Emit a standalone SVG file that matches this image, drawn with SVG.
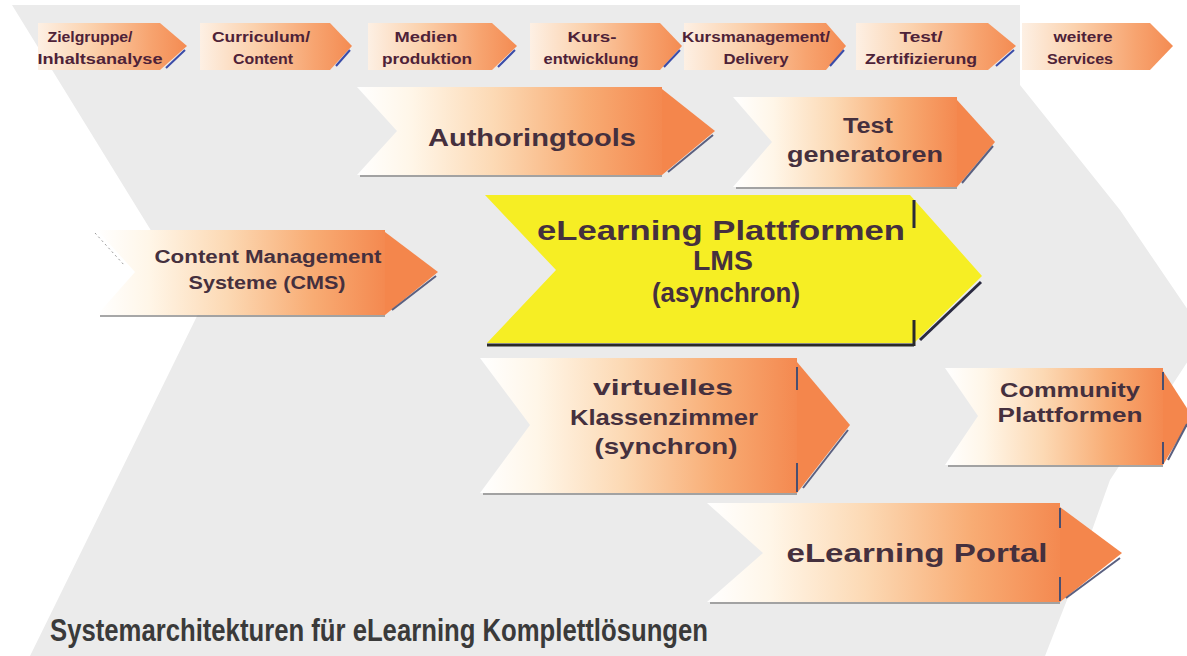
<svg xmlns="http://www.w3.org/2000/svg" width="1187" height="656" viewBox="0 0 1187 656">
<defs>
<linearGradient id="og" x1="0" y1="0" x2="1" y2="0">
<stop offset="0" stop-color="#ffffff"/>
<stop offset="0.18" stop-color="#fff6e8"/>
<stop offset="0.45" stop-color="#fcd9b4"/>
<stop offset="0.75" stop-color="#f8ac74"/>
<stop offset="1" stop-color="#f48950"/>
</linearGradient>
<linearGradient id="tg" x1="0" y1="0" x2="1" y2="0">
<stop offset="0" stop-color="#fdf0e4"/>
<stop offset="0.35" stop-color="#fbd2ae"/>
<stop offset="0.75" stop-color="#f7a470"/>
<stop offset="1" stop-color="#f48b52"/>
</linearGradient>
</defs>
<style>
.bg{fill:#ebebeb}
.body{fill:url(#og)}
.tbody{fill:url(#tg)}
.head{fill:#f4864c}
.shadow{fill:none;stroke:#5b6080;stroke-width:2}
.base{fill:none;stroke:#8a8a8a;stroke-width:1.5}
.tick{fill:none;stroke:#4a4f70;stroke-width:2}
.tshadow{fill:none;stroke:#3a4ca8;stroke-width:2}
.t{font-family:"Liberation Sans",Arial,sans-serif;font-weight:bold;fill:#4e2238;text-anchor:middle;font-size:14px}
.l{font-family:"Liberation Sans",Arial,sans-serif;font-weight:bold;fill:#45303e;text-anchor:middle}
.title{font-family:"Liberation Sans",Arial,sans-serif;font-weight:bold;fill:#3a3a3a;font-size:32px}
</style>

<g id="background">
<polygon class="bg" points="12,5 1020,5 1020,85 1120,210 1205,335 1110,480 1067,600 1045,656 30,656 200,310"/>
</g>

<g id="top-row">
<g id="t1">
<polygon class="tbody" points="38,23 160,23 187,46 160,70 38,70"/>
<polyline class="tshadow" points="185,50 166,68"/>
<text class="t" x="90" y="42" textLength="85" lengthAdjust="spacingAndGlyphs">Zielgruppe/</text>
<text class="t" x="100" y="64" textLength="125" lengthAdjust="spacingAndGlyphs">Inhaltsanalyse</text>
</g>
<g id="t2">
<polygon class="tbody" points="200,23 330,23 352,46 330,70 200,70"/>
<polyline class="tshadow" points="350,50 336,66"/>
<text class="t" x="261" y="42" textLength="98" lengthAdjust="spacingAndGlyphs">Curriculum/</text>
<text class="t" x="263" y="64" textLength="60" lengthAdjust="spacingAndGlyphs">Content</text>
</g>
<g id="t3">
<polygon class="tbody" points="368,23 492,23 517,46 492,70 368,70"/>
<polyline class="tshadow" points="515,50 498,67"/>
<text class="t" x="426" y="42" textLength="63" lengthAdjust="spacingAndGlyphs">Medien</text>
<text class="t" x="427" y="64" textLength="90" lengthAdjust="spacingAndGlyphs">produktion</text>
</g>
<g id="t4">
<polygon class="tbody" points="530,23 660,23 682,46 660,70 530,70"/>
<polyline class="tshadow" points="680,50 664,67"/>
<text class="t" x="592" y="42" textLength="49" lengthAdjust="spacingAndGlyphs">Kurs-</text>
<text class="t" x="591" y="64" textLength="95" lengthAdjust="spacingAndGlyphs">entwicklung</text>
</g>
<g id="t5">
<polygon class="tbody" points="684,23 826,23 846,46 826,70 684,70"/>
<polyline class="tshadow" points="844,50 830,66"/>
<text class="t" x="756" y="42" textLength="148" lengthAdjust="spacingAndGlyphs">Kursmanagement/</text>
<text class="t" x="756" y="64" textLength="65" lengthAdjust="spacingAndGlyphs">Delivery</text>
</g>
<g id="t6">
<polygon class="tbody" points="856,23 988,23 1016,46 988,70 856,70"/>
<polyline class="tshadow" points="1014,50 996,66"/>
<text class="t" x="921" y="42" textLength="43" lengthAdjust="spacingAndGlyphs">Test/</text>
<text class="t" x="921" y="64" textLength="112" lengthAdjust="spacingAndGlyphs">Zertifizierung</text>
</g>
<g id="t7">
<polygon class="tbody" points="1022,23 1150,23 1173,46 1150,70 1022,70"/>
<text class="t" x="1083" y="42" textLength="59" lengthAdjust="spacingAndGlyphs">weitere</text>
<text class="t" x="1080" y="64" textLength="66" lengthAdjust="spacingAndGlyphs">Services</text>
</g>
</g>

<g id="authoringtools">
<polygon class="body" points="357,87 662,87 662,175 357,175 397,131"/>
<polygon class="head" points="662,89 715,131 662,175"/>
<polyline class="shadow" points="713,135 668,172"/>
<line class="base" x1="360" y1="176" x2="662" y2="176"/>
<text class="l" x="532" y="146" font-size="24" textLength="208" lengthAdjust="spacingAndGlyphs">Authoringtools</text>
</g>

<g id="testgeneratoren">
<polygon class="body" points="733,97 957,97 957,187 733,187 772,142"/>
<polygon class="head" points="957,100 995,142 957,187"/>
<polyline class="shadow" points="993,146 962,183"/>
<line class="base" x1="736" y1="188" x2="957" y2="188"/>
<text class="l" x="868" y="133" font-size="22" textLength="50" lengthAdjust="spacingAndGlyphs">Test</text>
<text class="l" x="865" y="162" font-size="22" textLength="156" lengthAdjust="spacingAndGlyphs">generatoren</text>
</g>

<g id="cms">
<polygon class="body" points="97,230 385,230 385,315 97,315 135,272"/>
<polygon class="head" points="385,232 438,272 385,315"/>
<polyline class="shadow" points="436,276 392,310"/>
<line class="base" x1="100" y1="316" x2="385" y2="316"/>
<line x1="95" y1="233" x2="125" y2="266" stroke="#9a9a9a" stroke-width="1" stroke-dasharray="2 3"/>
<text class="l" x="268" y="263" font-size="18" textLength="227" lengthAdjust="spacingAndGlyphs">Content Management</text>
<text class="l" x="267" y="289" font-size="18" textLength="157" lengthAdjust="spacingAndGlyphs">Systeme (CMS)</text>
</g>

<g id="lms">
<polygon fill="#f6ee24" points="485,195 910,195 982,276 914,343 487,343 556,270"/>
<line x1="487" y1="345" x2="914" y2="345" stroke="#2a2a2a" stroke-width="3"/>
<line x1="914" y1="320" x2="914" y2="346" stroke="#2a2a2a" stroke-width="3"/>
<line x1="914" y1="200" x2="914" y2="228" stroke="#2a2a3a" stroke-width="3"/>
<line x1="920" y1="340" x2="981" y2="282" stroke="#2a2a40" stroke-width="3"/>
<text class="l" x="721" y="240" font-size="28" fill="#3a3040" textLength="368" lengthAdjust="spacingAndGlyphs">eLearning Plattformen</text>
<text class="l" x="723" y="270" font-size="27" fill="#3a3040" textLength="60" lengthAdjust="spacingAndGlyphs">LMS</text>
<text class="l" x="726" y="302" font-size="27" fill="#3a3040" textLength="148" lengthAdjust="spacingAndGlyphs">(asynchron)</text>
</g>

<g id="virtuelles">
<polygon class="body" points="480,358 797,358 797,493 480,493 530,425"/>
<polygon class="head" points="797,362 850,425 797,493"/>
<polyline class="shadow" points="848,430 803,488"/>
<line class="tick" x1="797" y1="367" x2="797" y2="390"/>
<line class="tick" x1="797" y1="463" x2="797" y2="492"/>
<line class="base" x1="483" y1="494" x2="797" y2="494"/>
<text class="l" x="663" y="395" font-size="22" textLength="140" lengthAdjust="spacingAndGlyphs">virtuelles</text>
<text class="l" x="664" y="425" font-size="22" textLength="188" lengthAdjust="spacingAndGlyphs">Klassenzimmer</text>
<text class="l" x="666" y="454" font-size="22" textLength="143" lengthAdjust="spacingAndGlyphs">(synchron)</text>
</g>

<g id="community">
<polygon class="body" points="945,368 1163,368 1163,465 945,465 978,416"/>
<polygon class="head" points="1163,371 1192,416 1163,465"/>
<polyline class="shadow" points="1187,424 1168,460"/>
<line class="tick" x1="1163" y1="372" x2="1163" y2="390"/>
<line class="tick" x1="1163" y1="442" x2="1163" y2="464"/>
<line class="base" x1="948" y1="466" x2="1163" y2="466"/>
<text class="l" x="1070" y="397" font-size="20" textLength="140" lengthAdjust="spacingAndGlyphs">Community</text>
<text class="l" x="1070" y="422" font-size="20" textLength="145" lengthAdjust="spacingAndGlyphs">Plattformen</text>
</g>

<g id="portal">
<polygon class="body" points="707,503 1060,503 1060,602 707,602 763,553"/>
<polygon class="head" points="1060,507 1122,553 1060,602"/>
<polyline class="shadow" points="1120,558 1066,598"/>
<line class="tick" x1="1060" y1="508" x2="1060" y2="528"/>
<line class="tick" x1="1060" y1="577" x2="1060" y2="601"/>
<line class="base" x1="710" y1="603" x2="1060" y2="603"/>
<text class="l" x="917" y="562" font-size="25" textLength="261" lengthAdjust="spacingAndGlyphs">eLearning Portal</text>
</g>

<g id="title">
<text class="title" x="50" y="641" textLength="658" lengthAdjust="spacingAndGlyphs">Systemarchitekturen für eLearning Komplettlösungen</text>
</g>
</svg>
